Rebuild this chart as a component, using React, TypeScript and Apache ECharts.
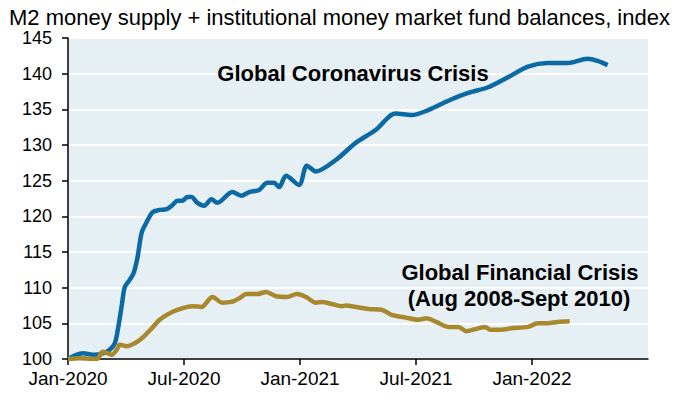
import React, { useEffect, useRef } from "react";
import * as echarts from "echarts";

// x positions are months since Jan-2020
const covidMonths = [0, 0.36, 0.77, 1.29, 1.8, 2.16, 2.42, 2.57, 2.78, 2.94, 3.19, 3.4, 3.6, 3.81, 4.07, 4.38, 4.74, 5.1, 5.41, 5.66, 5.92, 6.18, 6.39, 6.69, 7.05, 7.42, 7.72, 8.5, 8.96, 9.37, 9.89, 10.3, 10.66, 10.92, 11.28, 11.95, 12.36, 12.82, 13.85, 14.88, 15.91, 16.94, 17.77, 18.64, 19.67, 20.7, 21.73, 22.76, 23.79, 24.82, 25.85, 26.88, 27.39, 27.91];
const covidValues = [100.0, 100.5, 100.8, 100.6, 100.8, 101.3, 102.2, 104.0, 107.5, 110.1, 111.1, 112.1, 114.3, 117.7, 119.2, 120.6, 120.9, 121.0, 121.6, 122.2, 122.2, 122.7, 122.7, 121.9, 121.5, 122.4, 121.9, 123.4, 122.9, 123.4, 123.7, 124.7, 124.7, 124.1, 125.7, 124.4, 127.1, 126.3, 127.9, 130.3, 132.1, 134.4, 134.2, 134.9, 136.2, 137.3, 138.1, 139.5, 141.0, 141.5, 141.5, 142.1, 141.8, 141.2];

const gfcMonths = [0, 0.62, 1.49, 1.8, 2.06, 2.27, 2.52, 2.68, 3.04, 3.45, 3.86, 4.33, 4.74, 5.25, 5.66, 6.18, 6.44, 6.9, 7.47, 7.98, 8.44, 8.86, 9.22, 9.78, 10.25, 10.76, 11.33, 11.84, 12.31, 12.82, 13.13, 13.65, 14.16, 14.37, 14.88, 15.55, 16.22, 16.74, 17.46, 18.13, 18.54, 19.05, 19.67, 20.19, 20.6, 21.22, 21.58, 21.83, 22.4, 22.91, 23.79, 24.3, 24.82, 25.33, 25.95];
const gfcValues = [100.0, 100.1, 100.0, 101.0, 100.8, 100.6, 101.3, 102.0, 101.8, 102.2, 103.0, 104.3, 105.5, 106.4, 106.9, 107.3, 107.4, 107.3, 108.7, 107.9, 108.0, 108.5, 109.1, 109.1, 109.4, 108.8, 108.7, 109.1, 108.7, 107.9, 108.0, 107.7, 107.4, 107.5, 107.3, 107.0, 106.9, 106.2, 105.8, 105.5, 105.7, 105.2, 104.5, 104.5, 103.9, 104.3, 104.5, 104.1, 104.1, 104.3, 104.5, 105.0, 105.0, 105.2, 105.3];

const xTickValues = [0, 6, 12, 18, 24];
const xTickLabels = ["Jan-2020", "Jul-2020", "Jan-2021", "Jul-2021", "Jan-2022"];

const titleText = "M2 money supply + institutional money market fund balances, index";
const covidLabel = "Global Coronavirus Crisis";
const gfcLabel1 = "Global Financial Crisis";
const gfcLabel2 = "(Aug 2008-Sept 2010)";

const FONT = '"Liberation Sans", Arial, sans-serif';

export default function App() {
  const ref = useRef<HTMLDivElement>(null);
  useEffect(() => {
    if (!ref.current) return;
    const chart = echarts.init(ref.current, undefined, { renderer: "svg" });
    const covidData = covidMonths.map((m, i) => [m, covidValues[i]]);
    const gfcData = gfcMonths.map((m, i) => [m, gfcValues[i]]);
    chart.setOption({
      animation: false,
      backgroundColor: "#ffffff",
      textStyle: { fontFamily: FONT },
      title: {
        text: titleText,
        left: 4,
        top: 1,
        textStyle: { fontSize: 22, fontWeight: "normal", color: "#000", fontFamily: FONT },
      },
      grid: {
        left: 68,
        right: 50,
        top: 38,
        bottom: 42,
        show: true,
        backgroundColor: "#e6eff3",
        borderWidth: 0,
      },
      xAxis: {
        type: "value",
        min: 0,
        max: 30,
        interval: 6,
        axisLine: { show: true, lineStyle: { color: "#000", width: 1.5 } },
        axisTick: { show: true, length: 6, lineStyle: { color: "#000", width: 1.5 }, customValues: xTickValues },
        splitLine: { show: false },
        axisLabel: {
          customValues: xTickValues,
          formatter: (v: number) => {
            const i = xTickValues.indexOf(Math.round(v));
            return i >= 0 ? xTickLabels[i] : "";
          },
          fontSize: 19,
          color: "#000",
          margin: 10,
          fontFamily: FONT,
        },
      },
      yAxis: {
        type: "value",
        min: 100,
        max: 145,
        interval: 5,
        axisLine: { show: true, lineStyle: { color: "#000", width: 1.5 } },
        axisTick: { show: true, length: 6, lineStyle: { color: "#000", width: 1.5 } },
        splitLine: { show: true, lineStyle: { color: "#ffffff", width: 2 } },
        axisLabel: { fontSize: 18, color: "#000", margin: 16, fontFamily: FONT },
      },
      series: [
        {
          type: "line",
          data: covidData,
          showSymbol: false,
          smooth: 0.3,
          lineStyle: { color: "#0b6aa4", width: 4.5 },
          itemStyle: { color: "#0b6aa4" },
          z: 2,
        },
        {
          type: "line",
          data: gfcData,
          showSymbol: false,
          smooth: 0.3,
          lineStyle: { color: "#a8882c", width: 4.5 },
          itemStyle: { color: "#a8882c" },
          z: 3,
        },
      ],
      graphic: [
        {
          type: "text",
          x: 353,
          y: 73,
          style: {
            text: covidLabel,
            fontSize: 22,
            fontWeight: "bold",
            fontFamily: FONT,
            fill: "#000",
            textAlign: "center",
            textVerticalAlign: "middle",
          },
          z: 10,
        },
        {
          type: "text",
          x: 520,
          y: 272,
          style: {
            text: gfcLabel1,
            fontSize: 22,
            fontWeight: "bold",
            fontFamily: FONT,
            fill: "#000",
            textAlign: "center",
            textVerticalAlign: "middle",
          },
          z: 10,
        },
        {
          type: "text",
          x: 519,
          y: 298,
          style: {
            text: gfcLabel2,
            fontSize: 22,
            fontWeight: "bold",
            fontFamily: FONT,
            fill: "#000",
            textAlign: "center",
            textVerticalAlign: "middle",
          },
          z: 10,
        },
      ],
    });
    return () => chart.dispose();
  }, []);
  return (
    <div
      ref={ref}
      style={{ position: "fixed", left: 0, top: 0, width: 698, height: 401 }}
    />
  );
}
